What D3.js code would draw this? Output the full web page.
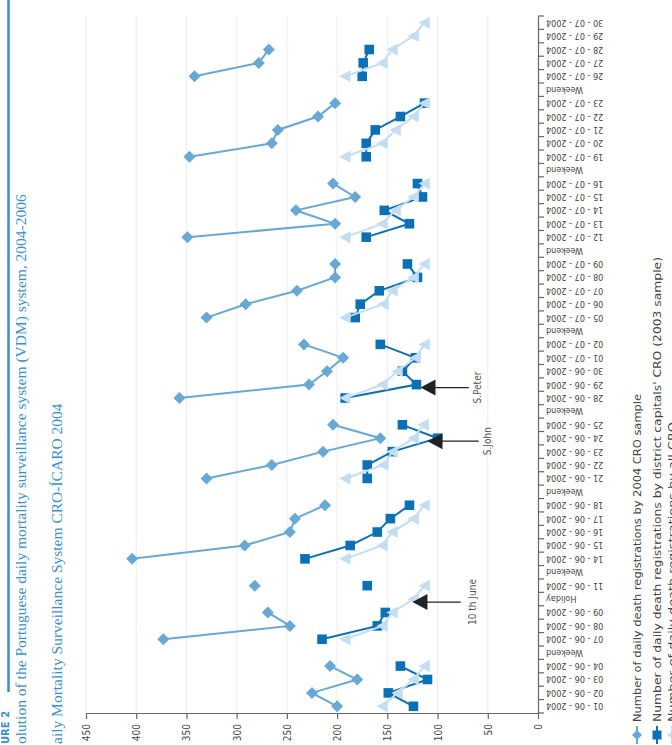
<!DOCTYPE html>
<html><head><meta charset="utf-8">
<script src="https://cdn.jsdelivr.net/npm/d3@7"></script>
<style>body{margin:0;background:#fff}</style>
</head><body>
<svg id="c" width="672" height="745"></svg>
<script>
const categories = ["01 - 06 - 2004","02 - 06 - 2004","03 - 06 - 2004","04 - 06 - 2004","Weekend",
"07 - 06 - 2004","08 - 06 - 2004","09 - 06 - 2004","Holiday","11 - 06 - 2004","Weekend",
"14 - 06 - 2004","15 - 06 - 2004","16 - 06 - 2004","17 - 06 - 2004","18 - 06 - 2004","Weekend",
"21 - 06 - 2004","22 - 06 - 2004","23 - 06 - 2004","24 - 06 - 2004","25 - 06 - 2004","Weekend",
"28 - 06 - 2004","29 - 06 - 2004","30 - 06 - 2004","01 - 07 - 2004","02 - 07 - 2004","Weekend",
"05 - 07 - 2004","06 - 07 - 2004","07 - 07 - 2004","08 - 07 - 2004","09 - 07 - 2004","Weekend",
"12 - 07 - 2004","13 - 07 - 2004","14 - 07 - 2004","15 - 07 - 2004","16 - 07 - 2004","Weekend",
"19 - 07 - 2004","20 - 07 - 2004","21 - 07 - 2004","22 - 07 - 2004","23 - 07 - 2004","Weekend",
"26 - 07 - 2004","27 - 07 - 2004","28 - 07 - 2004","29 - 07 - 2004","30 - 07 - 2004"];

const cro2004 = [200,225,180,207,null, 373,247,269,null,282,null, 404,292,247,242,212,null,
 330,265,214,157,204,null, 357,228,210,194,233,null, 330,291,240,202,202,null,
 349,202,241,182,204,null, 347,265,259,219,202,null, 342,278,268,null,null];

const districtCRO = [124,149,110,137,null, 215,160,152,null,170,null, 232,187,160,147,128,null,
 170,170,145,100,135,null, 192,121,135,122,157,null, 182,177,158,120,130,null,
 171,128,153,115,120,null, 171,171,162,137,113,null, 175,174,168,null,null];

const allCRO = [155,140,124,113,null, 192,155,145,124,113,null, 192,155,145,124,113,null,
 192,154,145,124,114,null, 192,155,140,122,113,null, 192,154,145,124,113,null,
 192,155,142,124,113,null, 192,155,142,124,113,null, 192,155,145,124,113];

const valueTicks = [0,50,100,150,200,250,300,350,400,450];

const seriesNames = ["Number of daily death registrations by 2004 CRO sample",
 "Number of daily death registrations by district capitals' CRO (2003 sample)",
 "Number of daily death registrations by all CRO"];
const legendLengths = [328, 465, 300];

const annotations = [
 {label:"10 th June", index:8, tip:125, tail:77, text:65},
 {label:"S.John", index:20, tip:110, tail:59, text:50},
 {label:"S.Peter", index:24, tip:117, tail:69, text:60}
];

const titleLines = ["olution of the Portuguese daily mortality surveillance system (VDM) system, 2004-2006",
 "aily Mortality Surveillance System CRO-ÍCARO 2004"];
const figLabel = "URE 2";

const colA = "#67a8d5", colB = "#0b70b5", colC = "#c4ddf1";
const font = "'DejaVu Sans Condensed','DejaVu Sans',sans-serif";

const svg = d3.select("#c");
const x = d3.scaleLinear().domain([0,450]).range([538,86]);
const y = d3.scaleBand().domain(d3.range(categories.length)).range([713,16]).paddingInner(0).paddingOuter(0);
const yc = i => y(i) + y.bandwidth()/2;

// gridlines
svg.append("g").selectAll("line").data(valueTicks.filter(v=>v>0)).join("line")
 .attr("x1",d=>x(d)).attr("x2",d=>x(d)).attr("y1",16).attr("y2",713)
 .attr("stroke","#ececec").attr("stroke-width",1);

// value axis (bottom of picture)
const va = svg.append("g").attr("transform","translate(0,713)")
 .call(d3.axisBottom(x).tickValues(valueTicks).tickSize(6).tickSizeOuter(0));
va.select(".domain").attr("stroke","#666").attr("stroke-width",1.2);
va.selectAll(".tick line").attr("stroke","#666").attr("stroke-width",1.2);
va.selectAll(".tick text").attr("y",null).attr("dy",null)
 .attr("text-anchor","end").attr("dominant-baseline","central")
 .attr("transform","translate(0,11) rotate(-90)")
 .attr("font-family",font).attr("font-size",10).attr("fill","#444");

// date axis (right of picture)
const da = svg.append("g").attr("transform","translate(538,0)")
 .call(d3.axisRight(y).tickSize(0).tickSizeOuter(0).tickFormat(i=>categories[i]));
da.select(".domain").attr("stroke","#666").attr("stroke-width",1.2);
da.selectAll(".tick text").attr("x",null).attr("dy",null)
 .attr("text-anchor","end").attr("dominant-baseline","central")
 .attr("transform","translate(8,0) rotate(180)")
 .attr("font-family",font).attr("font-size",9).attr("fill","#444");
// boundary tick marks
const bounds = d3.range(categories.length).map(i => y(i)+y.bandwidth()).concat([y(categories.length-1)]);
svg.append("g").selectAll("line").data(bounds).join("line")
 .attr("x1",538).attr("x2",544).attr("y1",d=>d).attr("y2",d=>d)
 .attr("stroke","#666").attr("stroke-width",1.2);

// series
function drawSeries(vals, color, shape, size){
  const line = d3.line().defined(d=>d!=null).x(d=>x(d)).y((d,i)=>yc(i));
  svg.append("path").datum(vals).attr("d",line).attr("fill","none")
   .attr("stroke",color).attr("stroke-width",2);
  const pts = vals.map((v,i)=>({v,i})).filter(d=>d.v!=null);
  svg.append("g").selectAll("path").data(pts).join("path")
   .attr("transform",d=>`translate(${x(d.v)},${yc(d.i)})`)
   .attr("d",shape(size)).attr("fill",color);
}
const diamond = s => `M0,${-s}L${s},0L0,${s}L${-s},0Z`;
const square = s => `M${-s},${-s}H${s}V${s}H${-s}Z`;
const triLeft = s => `M${-s},0L${s*0.9},${-s}L${s*0.9},${s}Z`;
drawSeries(cro2004, colA, diamond, 6);
drawSeries(districtCRO, colB, square, 4.8);
drawSeries(allCRO, colC, triLeft, 6);

// annotations
const ann = svg.append("g");
annotations.forEach(a=>{
  const yy = yc(a.index) + 3;
  ann.append("line").attr("x1",x(a.tip)+10).attr("x2",x(a.tail)).attr("y1",yy).attr("y2",yy)
   .attr("stroke","#222").attr("stroke-width",1.3);
  ann.append("path").attr("d",`M${x(a.tip)},${yy}L${x(a.tip)+15},${yy-8}L${x(a.tip)+15},${yy+8}Z`).attr("fill","#222");
  ann.append("text").attr("transform",`translate(${x(a.text)},${yy}) rotate(-90)`)
   .attr("text-anchor","middle").attr("dominant-baseline","central")
   .attr("font-family",font).attr("font-size",10).attr("fill","#555").text(a.label);
});

// legend
const shapes = [diamond, square, triLeft], cols=[colA,colB,colC], sizes=[5,4.5,5.5];
const legX = [637, 657, 672];
seriesNames.forEach((n,k)=>{
  const g = svg.append("g");
  g.append("line").attr("x1",legX[k]).attr("x2",legX[k]).attr("y1",726).attr("y2",744)
   .attr("stroke",cols[k]).attr("stroke-width",2);
  g.append("path").attr("transform",`translate(${legX[k]},735)`).attr("d",shapes[k](sizes[k])).attr("fill",cols[k]);
  g.append("text").attr("transform",`translate(${legX[k]},722) rotate(-90)`)
   .attr("dominant-baseline","central").attr("font-family",font).attr("font-size",11)
   .attr("textLength",legendLengths[k]).attr("lengthAdjust","spacingAndGlyphs")
   .attr("fill","#444").text(n);
});

// titles
svg.append("line").attr("x1",8.5).attr("x2",8.5).attr("y1",0).attr("y2",692).attr("stroke","#3d8fcc").attr("stroke-width",2.5);
svg.append("text").attr("transform","translate(5,744) rotate(-90)").attr("dominant-baseline","central")
 .attr("font-family","'DejaVu Sans',sans-serif").attr("font-weight","bold").attr("font-size",10).attr("fill","#3d8fcc").text(figLabel);
svg.append("text").attr("transform","translate(20,744) rotate(-90)").attr("dominant-baseline","central")
 .attr("font-family","'Liberation Serif',serif").attr("font-size",15.5).attr("fill","#3d8fcc").text(titleLines[0]);
svg.append("text").attr("transform","translate(56,744) rotate(-90)").attr("dominant-baseline","central")
 .attr("font-family","'Liberation Serif',serif").attr("font-size",15.5).attr("fill","#3d8fcc").text(titleLines[1]);
</script>
</body></html>
